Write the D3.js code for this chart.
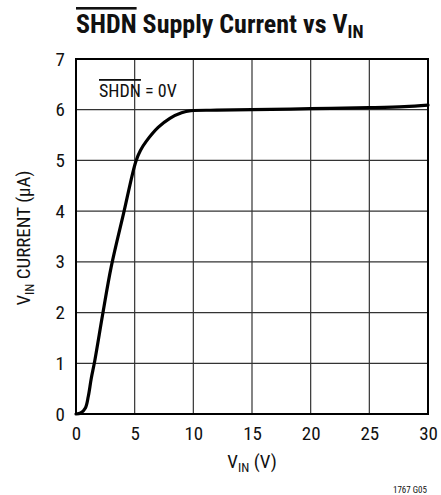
<!DOCTYPE html>
<html><head><meta charset="utf-8">
<script src="https://cdn.jsdelivr.net/npm/d3@7"></script>
<style>
body{margin:0;background:#fff;}
text{font-family:"Liberation Sans Narrow","Arial Narrow","Roboto Condensed","Liberation Sans",sans-serif;fill:#111;}
</style></head><body>
<svg id="c" width="441" height="495"></svg>
<script>
const vin = [0, 0.4, 0.8, 1.05, 1.3, 1.6, 2.3, 3.0, 4.05, 5.1, 5.5, 6.0, 7.0, 8.0, 9.0, 9.8, 12, 15, 20, 25, 28, 30];
const current = [0, 0.02, 0.12, 0.35, 0.7, 1.05, 2.0, 2.9, 3.95, 4.98, 5.2, 5.38, 5.65, 5.83, 5.94, 5.98, 5.99, 6.0, 6.02, 6.04, 6.06, 6.09];
const xTicks = [0, 5, 10, 15, 20, 25, 30];
const yTicks = [0, 1, 2, 3, 4, 5, 6, 7];

const svg = d3.select("#c");
const L = 76, R = 428, T = 59, B = 414;
const x = d3.scaleLinear().domain([0, 30]).range([L, R]);
const y = d3.scaleLinear().domain([0, 7]).range([B, T]);

// grid
svg.append("g").selectAll("line").data(xTicks.slice(1, -1)).join("line")
  .attr("x1", d => x(d)).attr("x2", d => x(d)).attr("y1", T).attr("y2", B)
  .attr("stroke", "#333").attr("stroke-width", 1.2);
svg.append("g").selectAll("line").data(yTicks.slice(1, -1)).join("line")
  .attr("y1", d => y(d)).attr("y2", d => y(d)).attr("x1", L).attr("x2", R)
  .attr("stroke", "#333").attr("stroke-width", 1.2);

// axes labels via d3 axes
const xa = svg.append("g").attr("transform", `translate(0,${B})`)
  .call(d3.axisBottom(x).tickValues(xTicks).tickFormat(d3.format("d")).tickSize(0).tickPadding(13));
const ya = svg.append("g").attr("transform", `translate(${L},0)`)
  .call(d3.axisLeft(y).tickValues(yTicks).tickFormat(d3.format("d")).tickSize(0).tickPadding(11));
[xa, ya].forEach(a => {
  a.select(".domain").remove();
  a.selectAll("text").attr("font-size", 19).attr("fill", "#111")
    .attr("font-family", '"Liberation Sans Narrow","Arial Narrow",sans-serif');
});

// frame
svg.append("rect").attr("x", L).attr("y", T).attr("width", R - L).attr("height", B - T)
  .attr("fill", "none").attr("stroke", "#000").attr("stroke-width", 2);

// curve
const line = d3.line().x((d, i) => x(vin[i])).y((d, i) => y(current[i])).curve(d3.curveCatmullRom.alpha(0.5));
svg.append("path").datum(current).attr("d", line)
  .attr("fill", "none").attr("stroke", "#000").attr("stroke-width", 3.2)
  .attr("stroke-linejoin", "round").attr("stroke-linecap", "round");

// title
const title = svg.append("text").attr("x", 76).attr("y", 33)
  .attr("font-size", 26).attr("font-weight", "bold");
title.append("tspan").text("SHDN").style("text-decoration", "overline");
title.append("tspan").text(" Supply Current vs V");
title.append("tspan").text("IN").attr("font-size", 18).attr("dy", 5);

// annotation
const ann = svg.append("text").attr("x", 99).attr("y", 97).attr("font-size", 18);
ann.append("tspan").text("SHDN").style("text-decoration", "overline");
ann.append("tspan").text(" = 0V");

// x label
const xl = svg.append("text").attr("x", 252).attr("y", 468).attr("text-anchor", "middle").attr("font-size", 19);
xl.append("tspan").text("V");
xl.append("tspan").text("IN").attr("font-size", 13).attr("dy", 4);
xl.append("tspan").text(" (V)").attr("dy", -4);

// y label
const yl = svg.append("text").attr("transform", "translate(30,238) rotate(-90)")
  .attr("text-anchor", "middle").attr("font-size", 19);
yl.append("tspan").text("V");
yl.append("tspan").text("IN").attr("font-size", 13).attr("dy", 4);
yl.append("tspan").text(" CURRENT (µA)").attr("dy", -4);

// code
svg.append("text").attr("x", 427).attr("y", 493).attr("text-anchor", "end")
  .attr("font-size", 9).text("1767 G05");
</script>
</body></html>
